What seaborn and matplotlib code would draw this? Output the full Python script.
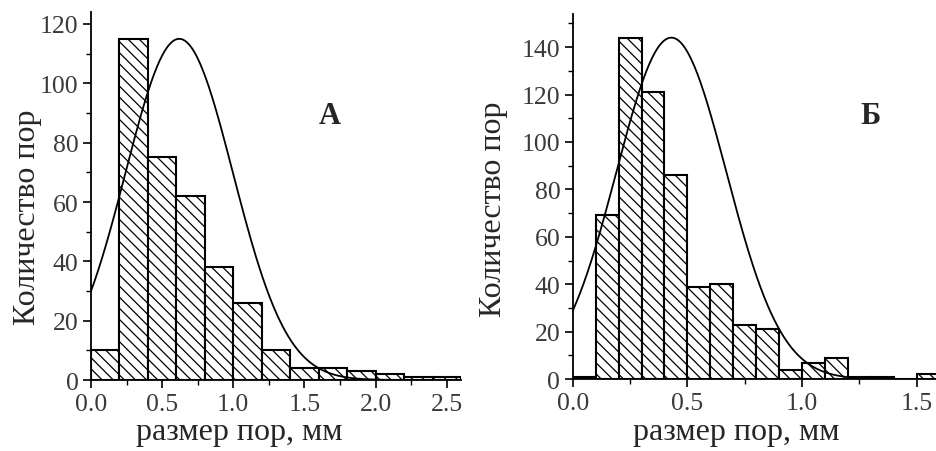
import numpy as np
import pandas as pd
import matplotlib
matplotlib.use("Agg")
import matplotlib.pyplot as plt
import seaborn as sns
from matplotlib.ticker import MultipleLocator

# ---- data ----
edges_a = [0.0, 0.2, 0.4, 0.6, 0.8, 1.0, 1.2, 1.4, 1.6, 1.8, 2.0, 2.2, 2.4, 2.6]
counts_a = [10, 115, 75, 62, 38, 26, 10, 4, 4, 3, 2, 1, 1]
fit_a = dict(amp=115, mu=0.62, sigma=0.378)   # Gaussian fit drawn over histogram A

edges_b = [0.0, 0.1, 0.2, 0.3, 0.4, 0.5, 0.6, 0.7, 0.8, 0.9, 1.0, 1.1, 1.2, 1.3, 1.4, 1.5, 1.6]
counts_b = [1, 69, 144, 121, 86, 39, 40, 23, 21, 4, 7, 9, 1, 1, 0, 2]
fit_b = dict(amp=144, mu=0.43, sigma=0.240)   # Gaussian fit drawn over histogram B

xlabel = "размер пор, мм"
ylabel = "Количество пор"
panel_labels = ["А", "Б"]

sns.set_theme(style="ticks")
plt.rcParams["font.family"] = ["Liberation Serif", "DejaVu Serif"]
plt.rcParams["hatch.linewidth"] = 0.9
plt.rcParams["hatch.color"] = "black"

fig = plt.figure(figsize=(9.36, 4.52), dpi=100)
ax_a = fig.add_axes([0.0972, 0.157, 0.3953, 0.814])
ax_b = fig.add_axes([0.612, 0.159, 0.388, 0.808])


def draw(ax, edges, counts, fit, xlim, ylim, ymaj, ymin, label, label_xy,
         xlab_pos, ylab_pos):
    centers = [(edges[i] + edges[i + 1]) / 2 for i in range(len(counts))]
    df = pd.DataFrame({"x": centers, "w": counts})
    sns.histplot(data=df, x="x", weights="w", bins=edges, ax=ax,
                 color="white", edgecolor="black", linewidth=1.5, alpha=1)
    for p in ax.patches:
        p.set_facecolor("white")
        p.set_hatch("\\\\\\")
        p.set_edgecolor("black")
    xs = np.linspace(xlim[0], xlim[1], 400)
    ys = fit["amp"] * np.exp(-(xs - fit["mu"]) ** 2 / (2 * fit["sigma"] ** 2))
    sns.lineplot(x=xs, y=ys, ax=ax, color="black", linewidth=1.3)
    ax.set_xlim(*xlim)
    ax.set_ylim(*ylim)
    ax.xaxis.set_major_locator(MultipleLocator(0.5))
    ax.xaxis.set_minor_locator(MultipleLocator(0.25))
    ax.yaxis.set_major_locator(MultipleLocator(ymaj))
    ax.yaxis.set_minor_locator(MultipleLocator(ymin))
    ax.xaxis.set_major_formatter(matplotlib.ticker.FormatStrFormatter("%.1f"))
    ax.tick_params(which="major", direction="out", length=6, width=1.2,
                   labelsize=18.5, labelcolor="#3a3a3a", color="black", pad=3)
    ax.tick_params(which="minor", direction="out", length=3.5, width=1.0, color="black")
    for s in ["top", "right"]:
        ax.spines[s].set_visible(False)
    for s in ["left", "bottom"]:
        ax.spines[s].set_linewidth(1.3)
        ax.spines[s].set_color("black")
    ax.set_xlabel(xlabel, fontsize=23)
    ax.set_ylabel(ylabel, fontsize=23)
    ax.xaxis.set_label_coords(*xlab_pos)
    ax.yaxis.set_label_coords(*ylab_pos)
    ax.text(label_xy[0], label_xy[1], label, fontsize=22, fontweight="bold",
            ha="center", va="center")
    ax.set_facecolor("white")


draw(ax_a, edges_a, counts_a, fit_a, (0, 2.6), (0, 124), 20, 10, panel_labels[0], (1.68, 89),
     (0.40, -0.10), (-0.132, 0.445))
draw(ax_b, edges_b, counts_b, fit_b, (0, 1.585), (0, 154), 20, 10, panel_labels[1], (1.30, 111),
     (0.45, -0.105), (-0.179, 0.468))

fig.savefig("out.png", dpi=100, facecolor="white")
